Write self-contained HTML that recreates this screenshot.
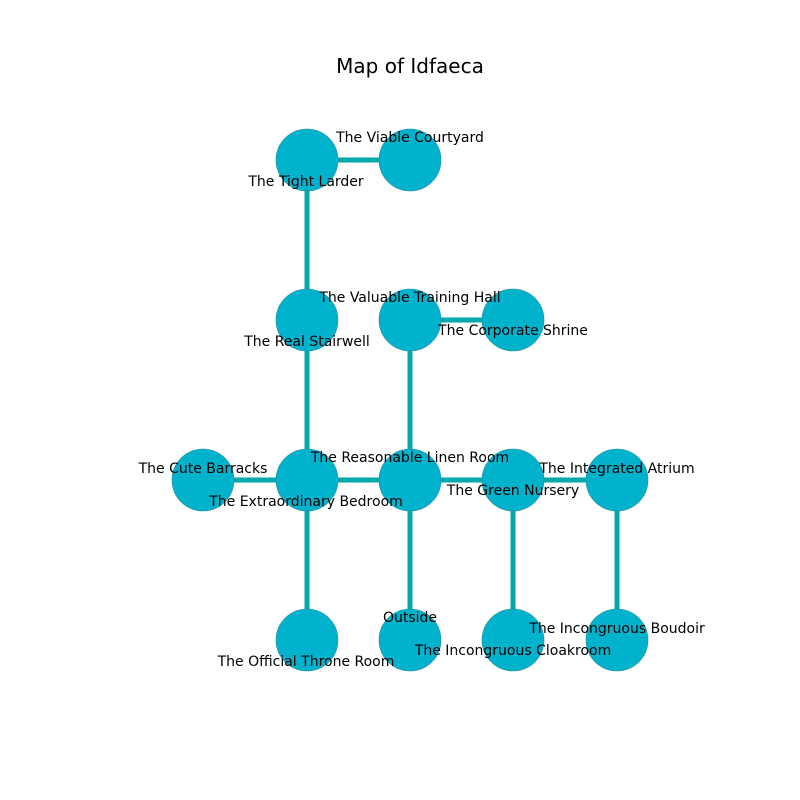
<!DOCTYPE html>
<html><head><meta charset="utf-8"><style>body{margin:0;background:#fff}svg{display:block}</style></head>
<body>
<svg width="800" height="800" xmlns="http://www.w3.org/2000/svg" font-family="DejaVu Sans, Liberation Sans, sans-serif">
<rect width="800" height="800" fill="#fff"/>
<text x="410" y="73" font-size="20" text-anchor="middle" fill="#000">Map of Idfaeca</text>
<g stroke="#00a9a9" stroke-width="5">
<line x1="307" y1="160" x2="410" y2="160"/>
<line x1="307" y1="160" x2="307" y2="480"/>
<line x1="410" y1="320" x2="513" y2="320"/>
<line x1="410" y1="320" x2="410" y2="640"/>
<line x1="203" y1="480" x2="617" y2="480"/>
<line x1="307" y1="480" x2="307" y2="640"/>
<line x1="513" y1="480" x2="513" y2="640"/>
<line x1="617" y1="480" x2="617" y2="640"/>
</g>
<g fill="#00b2cc" stroke="#2a8a99" stroke-width="0.6">
<circle cx="307" cy="160" r="31"/><circle cx="410" cy="160" r="31"/>
<circle cx="307" cy="320" r="31"/><circle cx="410" cy="320" r="31"/><circle cx="513" cy="320" r="31"/>
<circle cx="203" cy="480" r="31"/><circle cx="307" cy="480" r="31"/><circle cx="410" cy="480" r="31"/><circle cx="513" cy="480" r="31"/><circle cx="617" cy="480" r="31"/>
<circle cx="307" cy="640" r="31"/><circle cx="410" cy="640" r="31"/><circle cx="513" cy="640" r="31"/><circle cx="617" cy="640" r="31"/>
</g>
<g font-size="14" text-anchor="middle" fill="#000">
<text x="410" y="142">The Viable Courtyard</text>
<text x="306" y="186">The Tight Larder</text>
<text x="410" y="302">The Valuable Training Hall</text>
<text x="307" y="346">The Real Stairwell</text>
<text x="513" y="335">The Corporate Shrine</text>
<text x="203" y="473">The Cute Barracks</text>
<text x="410" y="462">The Reasonable Linen Room</text>
<text x="306" y="506">The Extraordinary Bedroom</text>
<text x="513" y="495">The Green Nursery</text>
<text x="617" y="473">The Integrated Atrium</text>
<text x="410" y="622">Outside</text>
<text x="306" y="666">The Official Throne Room</text>
<text x="513" y="655">The Incongruous Cloakroom</text>
<text x="617" y="633">The Incongruous Boudoir</text>
</g>
</svg>
</body></html>
